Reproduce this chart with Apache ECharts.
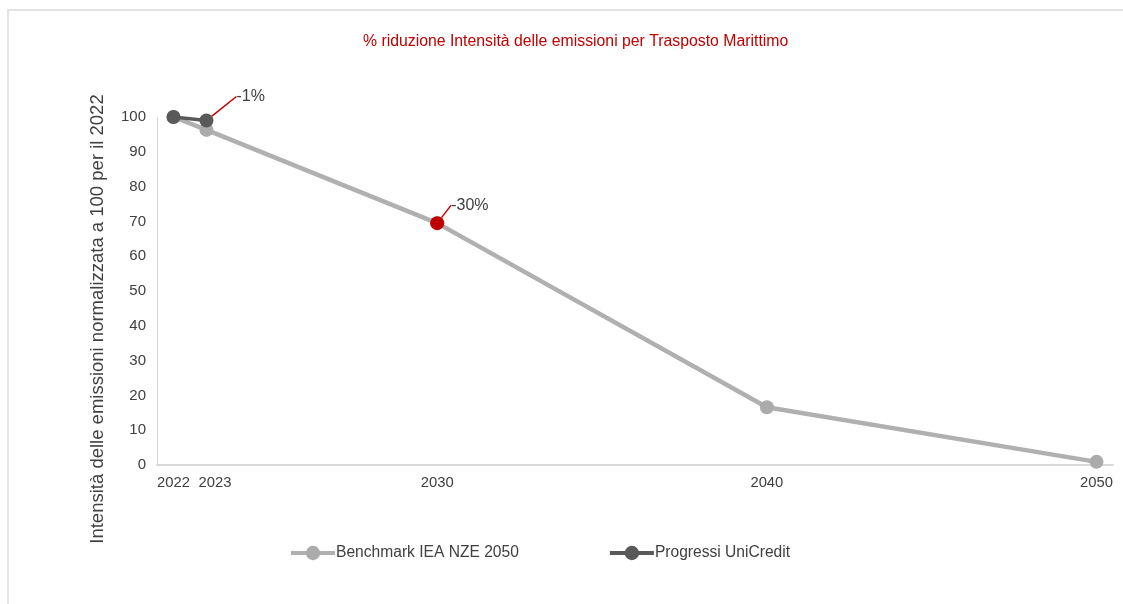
<!DOCTYPE html>
<html>
<head>
<meta charset="utf-8">
<script src="https://cdn.jsdelivr.net/npm/echarts@6/dist/echarts.min.js"></script>
<style>
  html, body { margin: 0; padding: 0; background: #fff; }
  #chart { width: 1123px; height: 604px; position: absolute; left: 0; top: 0; }
  #frame { position: absolute; left: 7px; top: 9px; width: 1123px; height: 604px;
           border-left: 2px solid #e3e3e3; border-top: 2px solid #e3e3e3; pointer-events: none; }
</style>
</head>
<body>
<div id="chart"></div>
<div id="frame"></div>
<script>
// dati
const years = [2022, 2023, 2030, 2040, 2050]
const benchmark = [100, 96.3, 69.5, 16.6, 0.9]
const progressiYears = [2022, 2023]
const progressi = [100, 99]
const targetYears = [2030]
const target = [69.5]
const yTicks = [0, 10, 20, 30, 40, 50, 60, 70, 80, 90, 100]

const FONT = "'Liberation Sans', Arial, sans-serif"
const pairs = (xs, ys) => xs.map((x, i) => [x, ys[i]])

let chart = echarts.init(document.getElementById('chart'))
let option = {
  animation: false,
  title: {
    text: '% riduzione Intensità delle emissioni per Trasposto Marittimo',
    left: 358,
    top: 29,
    textStyle: { color: '#c00000', fontFamily: FONT, fontSize: 15.8, fontWeight: 'normal' }
  },
  legend: {
    left: 284,
    top: 540,
    itemGap: 89,
    itemWidth: 44,
    itemHeight: 18,
    lineStyle: { width: 4 },
    data: ['Benchmark IEA NZE 2050', 'Progressi UniCredit'],
    textStyle: { color: '#404040', fontFamily: FONT, fontSize: 15.6, padding: [0, 0, 0, -4] }
  },
  grid: { left: 157, right: 10, top: 117, bottom: 139 },
  xAxis: {
    type: 'value',
    min: 2021.5,
    max: 2050.5,
    splitLine: { show: false },
    axisTick: { show: false },
    axisLine: { lineStyle: { color: '#d9d9d9', width: 2 } },
    axisLabel: {
      customValues: years,
      hideOverlap: false,
      showMinLabel: true,
      showMaxLabel: true,
      color: '#404040',
      fontFamily: FONT,
      fontSize: 14.8,
      margin: 10,
      // 2023 spostato a destra per non sovrapporsi a 2022
      formatter: v => v === 2023 ? '{s|' + v + '}' : String(v),
      rich: { s: { padding: [0, 0, 0, 17], fontFamily: FONT, fontSize: 14.8, color: '#404040' } }
    }
  },
  yAxis: {
    type: 'value',
    min: 0,
    max: 100,
    interval: 10,
    name: 'Intensità delle emissioni normalizzata a 100 per il 2022',
    nameLocation: 'middle',
    nameGap: 50,
    nameTextStyle: { color: '#404040', fontFamily: FONT, fontSize: 18.5, padding: [0, 56, 0, 0] },
    splitLine: { show: false },
    axisTick: { show: false },
    axisLine: { show: true, lineStyle: { color: '#d9d9d9', width: 1 } },
    axisLabel: {
      customValues: yTicks,
      color: '#404040', fontFamily: FONT, fontSize: 15, margin: 11
    }
  },
  series: [
    {
      name: 'Benchmark IEA NZE 2050',
      type: 'line',
      data: pairs(years, benchmark),
      color: '#ababab',
      symbol: 'circle',
      symbolSize: 14,
      lineStyle: { width: 4.5, color: '#b0b0b0' },
      z: 2
    },
    {
      name: 'Progressi UniCredit',
      type: 'line',
      data: pairs(progressiYears, progressi).map((d, i) => i === 1 ? {
        value: d,
        label: { show: true, formatter: '-1%', position: 'right' }
      } : d),
      color: '#595959',
      symbol: 'circle',
      symbolSize: 14,
      lineStyle: { width: 3.5, color: '#595959' },
      label: { color: '#404040', fontFamily: FONT, fontSize: 16 },
      labelLayout: p => p.dataIndex === 1 ? { dx: 18, dy: -24 } : {},
      labelLine: { show: true, lineStyle: { color: '#c00000', width: 1.5 } },
      z: 3
    },
    {
      name: 'Obiettivo 2030',
      type: 'line',
      data: pairs(targetYears, target),
      color: '#c00000',
      symbol: 'circle',
      symbolSize: 14,
      label: { show: true, formatter: '-30%', position: 'right', color: '#404040', fontFamily: FONT, fontSize: 16 },
      labelLayout: { dx: 2, dy: -18 },
      labelLine: { show: true, lineStyle: { color: '#c00000', width: 1.5 } },
      z: 4
    }
  ]
}
chart.setOption(option)
</script>
</body>
</html>
